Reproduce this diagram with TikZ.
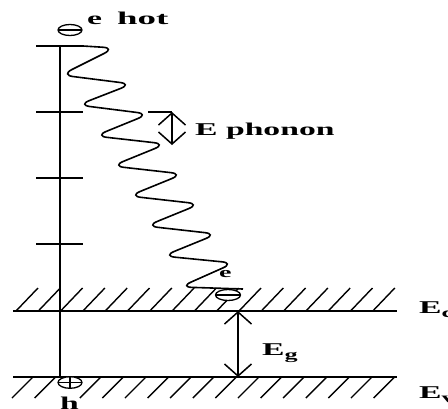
\documentclass[tikz,border=0pt]{standalone}
\usepackage{fontspec}
\usepackage{graphicx}
\setmainfont{Liberation Serif}
\usetikzlibrary{arrows.meta}
\newcommand{\wide}[1]{\scalebox{1.87}[1]{#1}}
\begin{document}
\begin{tikzpicture}[x=1pt,y=-1pt,
  lbl/.style={inner sep=0pt, font=\bfseries\fontsize{18}{18}\selectfont},
  small/.style={inner sep=0pt, font=\bfseries\fontsize{15}{15}\selectfont},
  axis/.style={line width=2pt},
  tick/.style={line width=1.4pt},
  band/.style={line width=1.5pt},
  hatch/.style={line width=1.4pt},
  wave/.style={line width=1.6pt, rounded corners=12pt},
  dbl/.style={line width=1.5pt,
    {Straight Barb[length=12pt,width=27pt]}-{Straight Barb[length=12pt,width=27pt]}},
  carrier/.style={line width=1.3pt, fill=white, draw}]
\useasboundingbox (0,0) rectangle (448,408);
\fill[white] (0,0) rectangle (448,408);

% hatches
\foreach \k in {0,...,16}{
  \draw[hatch] ({16+22.3*\k},311) -- ++(22,-23);
}
\foreach \k in {0,1,3,4,5,6,7,8,9,10,11,12,13,14,15,16}{
  \draw[hatch] ({33+22.6*\k},377) -- ++(-21,21);
}
% band edges
\coordinate (ecL) at (13,311);
\coordinate (ecR) at (397,311);
\coordinate (evL) at (13,377);
\coordinate (evR) at (397,377);
\draw[band] (ecL) -- (ecR);
\draw[band] (evL) -- (evR);

% energy axis
\coordinate (axtop) at (60,46);
\coordinate (axbot) at (60,377);
\draw[axis] (axtop) -- (axbot);
\foreach \y in {46,112,178,244}{
  \draw[tick] (36,\y) -- (83,\y);
}

% relaxation wave
\draw[wave] (83,46) -- (115,48) -- (61,75)
  -- (132,84) -- (78,105)
  -- (149,114) -- (95,136)
  -- (166,144) -- (112,166)
  -- (183,174) -- (129,196)
  -- (200,204) -- (146,226)
  -- (217,234) -- (163,256)
  -- (234,263) -- (180,287)
  -- (243,289);

% phonon step
\coordinate (phL) at (148,112);
\coordinate (phT) at (172,112);
\coordinate (phB) at (172,145);
\draw[tick] (phL) -- (phT);
\draw[dbl] (phT) -- (phB);
\coordinate (gT) at (238,311);
\coordinate (gB) at (238,377);
\draw[dbl] (gT) -- (gB);

% carriers
\coordinate (ehot) at (70,30);
\draw[carrier] (ehot) ellipse [x radius=12, y radius=5.5];
\draw[line width=1.2pt] ([xshift=-12pt]ehot) -- ([xshift=12pt]ehot);
\coordinate (ecold) at (228,295);
\draw[carrier] (ecold) ellipse [x radius=12.5, y radius=5.5];
\draw[line width=1.2pt] ([xshift=-12.5pt]ecold) -- ([xshift=12.5pt]ecold);
\coordinate (hole) at (70,382.5);
\draw[carrier] (hole) ellipse [x radius=12, y radius=5.8];
\draw[line width=1.2pt] ([xshift=-12pt]hole) -- ([xshift=12pt]hole)
  ([yshift=5.8pt]hole) -- ([yshift=-5.8pt]hole);

% labels
\node[lbl, anchor=base west] (le) at (87,24) {\wide{e}};
\node[lbl, anchor=base west] (lhot) at (117,24) {\scalebox{2.05}[1]{hot}};
\node[lbl, anchor=base west] (lph) at (195,135) {\wide{E phonon}};
\node[small, anchor=base west] (le2) at (219,277) {\wide{e}};
\node[lbl, anchor=base west] (lg) at (262,355) {\wide{E\raisebox{-4pt}{\fontsize{14}{14}\selectfont g}}};
\node[lbl, anchor=base west] (lc) at (419,313) {\wide{E\raisebox{-4pt}{\fontsize{14}{14}\selectfont c}}};
\node[lbl, anchor=base west] (lv) at (419,398) {\wide{E\raisebox{-4pt}{\fontsize{14}{14}\selectfont v}}};
\node[lbl, anchor=base west] (lh) at (60,409) {\wide{h}};
\end{tikzpicture}
\end{document}
